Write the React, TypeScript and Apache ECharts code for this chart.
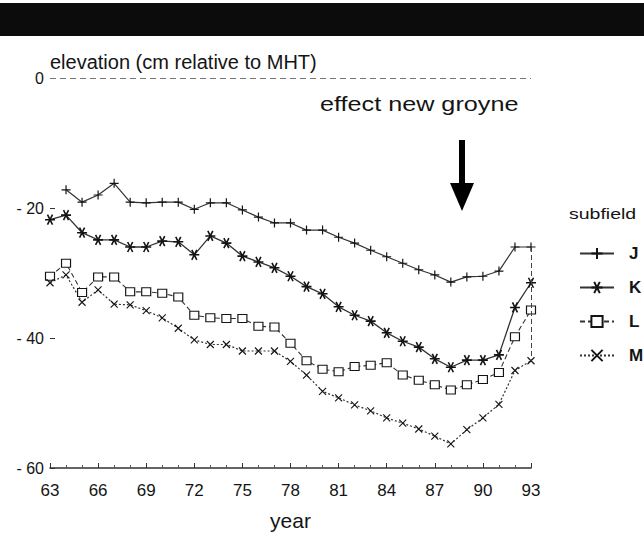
import React, { useEffect, useRef } from "react";
import * as echarts from "echarts";

const years = [63, 64, 65, 66, 67, 68, 69, 70, 71, 72, 73, 74, 75, 76, 77, 78, 79, 80, 81, 82, 83, 84, 85, 86, 87, 88, 89, 90, 91, 92, 93];
const seriesNames = ["J", "K", "L", "M"];
const valuesJ = [null, -17.2, -19.1, -18.0, -16.2, -19.1, -19.2, -19.1, -19.1, -20.2, -19.2, -19.2, -20.3, -21.4, -22.3, -22.3, -23.4, -23.4, -24.5, -25.4, -26.5, -27.5, -28.5, -29.5, -30.3, -31.4, -30.6, -30.5, -29.7, -26.0, -26.0];
const valuesK = [-21.8, -21.1, -23.8, -24.9, -24.9, -26.0, -26.0, -25.1, -25.2, -27.2, -24.3, -25.4, -27.4, -28.3, -29.2, -30.5, -32.1, -33.2, -35.2, -36.5, -37.4, -39.2, -40.5, -41.4, -43.2, -44.5, -43.4, -43.4, -42.6, -35.3, -31.5];
const valuesL = [-30.5, -28.5, -33.0, -30.6, -30.6, -32.9, -32.9, -33.1, -33.7, -36.5, -36.9, -37.0, -37.0, -38.2, -38.3, -40.8, -43.5, -44.8, -45.2, -44.4, -44.2, -43.8, -45.7, -46.5, -47.2, -48.0, -47.2, -46.4, -45.3, -39.8, -35.7];
const valuesM = [-31.5, -30.3, -34.5, -32.6, -34.8, -34.9, -35.8, -36.9, -38.5, -40.3, -41.0, -41.0, -42.0, -42.0, -42.0, -43.6, -45.7, -48.2, -49.2, -50.3, -51.2, -52.3, -53.1, -54.0, -55.1, -56.3, -54.1, -52.3, -50.2, -45.0, -43.5];
const xMin = 63;
const xMax = 93;
const xInterval = 3;
const yMin = -60;
const yMax = 0;
const yInterval = 20;

const FONT = "'Liberation Sans', Arial, sans-serif";
const INK = "#141414";

const SYM_PLUS = "path://M0,5L10,5M5,0L5,10";
const SYM_STAR = "path://M0,5L10,5M2.5,0.67L7.5,9.33M2.5,9.33L7.5,0.67";
const SYM_X = "path://M0,0L10,10M0,10L10,0";

export default function App() {
  const ref = useRef<HTMLDivElement>(null);
  useEffect(() => {
    const chart = echarts.init(ref.current!, null, { renderer: "svg" });
    const pair = (vals: (number | null)[]) => years.map((y, i) => [y, vals[i]]);
    const last = years.length - 1;

    const option: any = {
      animation: false,
      backgroundColor: "#fff",
      grid: { left: 50, top: 78, width: 481, height: 390, containLabel: false },
      xAxis: {
        type: "value",
        min: xMin,
        max: xMax,
        interval: xInterval,
        name: "year",
        nameLocation: "middle",
        nameGap: 42,
        nameTextStyle: { fontSize: 21, fontFamily: FONT, color: INK },
        axisLine: { show: true, onZero: false, lineStyle: { color: "#333", width: 1.6 } },
        axisTick: { show: true, inside: true, length: 5, lineStyle: { color: "#333" } },
        minorTick: { show: true, splitNumber: 3, length: 3, lineStyle: { color: "#555" } },
        axisLabel: { fontSize: 17, fontFamily: FONT, color: INK, margin: 14 },
        splitLine: { show: false },
      },
      yAxis: {
        type: "value",
        min: yMin,
        max: yMax,
        interval: yInterval,
        axisLine: { show: false },
        axisTick: { show: true, inside: true, length: 5, lineStyle: { color: "#333" } },
        axisLabel: {
          fontSize: 16,
          fontFamily: FONT,
          color: INK,
          margin: 6,
          formatter: (v: number) => (v < 0 ? "- " + -v : String(v)),
        },
        splitLine: { show: false },
      },
      legend: {
        data: seriesNames,
        orient: "vertical",
        left: 574,
        top: 240,
        itemWidth: 34,
        itemHeight: 14,
        itemGap: 17,
        textStyle: { fontSize: 17, fontWeight: "bold", fontFamily: FONT, color: INK, padding: [0, 0, 0, 10] },
      },
      graphic: [
        { type: "rect", shape: { x: 0, y: 3, width: 644, height: 33 }, style: { fill: "#0c0c0c" } },
        {
          type: "text",
          x: 50,
          y: 62,
          style: { text: "elevation (cm relative to MHT)", fontSize: 20, fontFamily: FONT, fill: INK, verticalAlign: "middle" },
        },
        {
          type: "text",
          x: 320,
          y: 104,
          scaleX: 1.2,
          style: { text: "effect new groyne", fontSize: 21, fontFamily: FONT, fill: INK, verticalAlign: "middle" },
        },
        { type: "rect", shape: { x: 459, y: 140, width: 6, height: 44 }, style: { fill: "#000" } },
        { type: "polygon", shape: { points: [[450, 183], [474, 183], [462, 211]] }, style: { fill: "#000" } },
        {
          type: "text",
          x: 569,
          y: 214,
          scaleX: 1.3,
          style: { text: "subfield", fontSize: 15, fontFamily: FONT, fill: INK, verticalAlign: "middle" },
        },
      ],
      series: [
        {
          name: "J",
          type: "line",
          data: pair(valuesJ),
          connectNulls: false,
          symbol: SYM_PLUS,
          symbolSize: 9,
          itemStyle: { color: INK, borderColor: INK, borderWidth: 1.2 },
          lineStyle: { color: "#333", width: 1.2, type: "solid" },
          markLine: {
            silent: true,
            symbol: "none",
            label: { show: false },
            data: [
              { yAxis: yMax, lineStyle: { type: [6, 4], color: "#777", width: 1 } },
              [
                { coord: [xMax, valuesJ[last]] },
                { coord: [xMax, valuesM[last]], lineStyle: { type: [5, 3], color: "#444", width: 1 } },
              ],
            ],
          },
        },
        {
          name: "K",
          type: "line",
          data: pair(valuesK),
          symbol: SYM_STAR,
          symbolSize: 10,
          itemStyle: { color: INK, borderColor: INK, borderWidth: 1.6 },
          lineStyle: { color: "#333", width: 1.3, type: "solid" },
        },
        {
          name: "L",
          type: "line",
          data: pair(valuesL),
          symbol: "rect",
          symbolSize: [9, 8],
          itemStyle: { color: "#fff", borderColor: INK, borderWidth: 1.1 },
          lineStyle: { color: "#333", width: 1.1, type: [5, 3] },
        },
        {
          name: "M",
          type: "line",
          data: pair(valuesM),
          symbol: SYM_X,
          symbolSize: 7,
          itemStyle: { color: INK, borderColor: INK, borderWidth: 1.1 },
          lineStyle: { color: "#333", width: 1.2, type: [2, 2] },
        },
      ],
    };
    chart.setOption(option);
    return () => chart.dispose();
  }, []);
  return (
    <div
      ref={ref}
      style={{ position: "fixed", left: 0, top: 0, width: 644, height: 536, background: "#fff" }}
    />
  );
}
